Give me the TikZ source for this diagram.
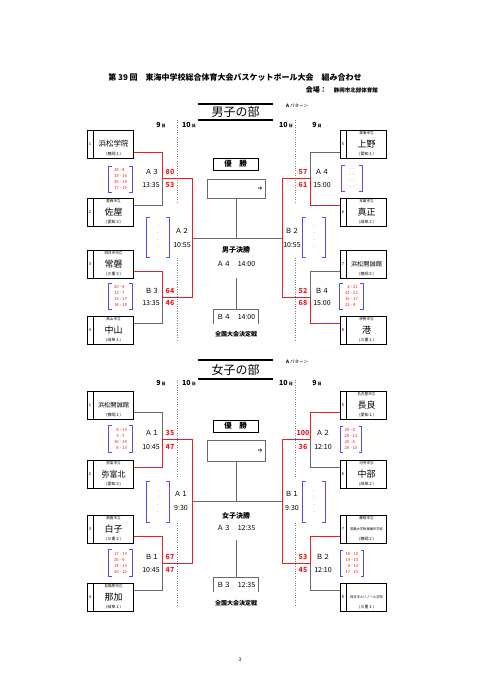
\documentclass[tikz,border=0pt]{standalone}
\usepackage{fontspec}
\setmainfont{Noto Sans CJK JP}
\usetikzlibrary{calc}
\definecolor{winred}{RGB}{228,32,32}
\definecolor{linegray}{RGB}{105,105,105}
\definecolor{sheetblue}{RGB}{80,80,230}
\tikzset{
  teambox/.style={draw, line width=1, minimum width=46, minimum height=28},
  lossline/.style={draw=linegray, line width=.8},
  winline/.style={draw=winred, line width=1},
  score/.style={text=winred, font=\fontsize{7}{8}\bfseries},
  gamelbl/.style={font=\fontsize{7}{8}\selectfont},
  qsheet/.style={minimum width=23, minimum height=26, text=winred, align=center, font=\fontsize{4.3}{6}\selectfont},
  bracket/.style={draw=sheetblue, line width=.7},
  daydot/.style={draw=gray, line width=.5, dash pattern=on .8pt off 1.6pt},
  champ/.style={draw, line width=.9, minimum width=45, minimum height=12, font=\fontsize{7.5}{8}\bfseries},
  resbox/.style={draw=linegray, line width=.7, minimum width=58},
  secttitle/.style={font=\fontsize{12}{12}\selectfont, minimum width=75},
}
\begin{document}
\begin{tikzpicture}[x=1pt,y=-1pt,every node/.style={inner sep=0}]
  \fill[white] (0,0) rectangle (481,680);
  \useasboundingbox (0,0) rectangle (481,680);
  \setlength\tabcolsep{0pt}

  % heading
  \node[font=\fontsize{8}{9}\bfseries] (title) at (235,77) {第 39 回　東海中学校総合体育大会バスケットボール大会　組み合わせ};
  \node[anchor=east, font=\fontsize{7}{8}\bfseries] (venue) at (378,90) {会場：　{\fontsize{5.5}{6}\selectfont 静岡市北部体育館}};
  \node[font=\fontsize{5}{5}\selectfont] (page) at (240,660) {3};

  % team boxes
  \foreach \id/\cx/\cy/\num/\pre/\nm/\fs/\pref in {
    m1/110/144/1//浜松学院/7.5/静岡１, m2/110/212/2/愛西市立/佐屋/9/愛知２,
    m3/110/264.5/3/四日市市立/常磐/9/三重２, m4/110/330.5/4/高山市立/中山/9/岐阜１,
    m5/363/144/5/東海市立/上野/9/愛知１, m6/363/212/6/本巣市立/真正/9/岐阜２,
    m7/363/264.5/7//浜松開誠館/6.2/静岡２, m8/363/330.5/8/伊勢市立/港/9/三重１,
    w1/110/405/1//浜松開誠館/6.2/静岡１, w2/110/474/2/弥富市立/弥富北/8/愛知２,
    w3/110/529/3/鈴鹿市立/白子/9/三重２, w4/110/597/4/各務原市立/那加/9/岐阜１,
    w5/363/405/5/名古屋市立/長良/9/愛知１, w6/363/474/6/可児市立/中部/9/岐阜２,
    w7/363/529/7/静岡市立/常葉大学附属橘中学校/3.3/静岡２, w8/363/597/8//四日市メリノール学院/3.3/三重１}{
    \node[teambox] (\id) at (\cx,\cy) {};
    \draw[line width=.6] ($(\id.north west)+(7,0)$) -- ($(\id.south west)+(7,0)$);
    \node[font=\fontsize{4}{4}\selectfont] (\id-n) at ($(\id.west)+(3.5,0)$) {\num};
    \node[font=\fontsize{3.6}{4}\selectfont] (\id-p) at ($(\id.north)+(3.5,3.5)$) {\pre};
    \node[font=\fontsize{\fs}{\fs}\selectfont] (\id-t) at ($(\id.center)+(3.5,0)$) {\nm};
    \node[font=\fontsize{4}{4}\selectfont] (\id-f) at ($(\id.south)+(3.5,-4.5)$) {(\pref)};
  }

  %%%%%%%%%% boys
  \node[secttitle, minimum height=16] (mtitle) at (235.5,112) {男子の部};
  \draw[line width=1.6] (mtitle.north west) -- (mtitle.north east) (mtitle.south west) -- (mtitle.south east);
  \node[font=\fontsize{4.5}{5}\selectfont] (mpat) at (297,106) {\textbf{A} パターン};
  \foreach \id/\x/\d in {md1/161/9, md2/189/10, md3/286/10, md4/317/9}
    \node[font=\fontsize{7}{8}\bfseries] (\id) at (\x,125) {\d\,{\fontsize{4}{4}\selectfont 日}};
  \draw[daydot] (177,120) -- (177,203) (177,258) -- (177,340);
  \draw[daydot] (295,120) -- (295,203) (295,258) -- (295,340);

  \coordinate (mjA3) at (162,178.5);
  \coordinate (mjB3) at (162,297);
  \coordinate (mjL) at (192,238);
  \coordinate (mjA4) at (310,178.5);
  \coordinate (mjB4) at (310,297);
  \coordinate (mjR) at (282,238);
  \draw[lossline] ($(m2.east)+(0,-7)$) -| (mjA3);
  \draw[lossline] ($(m4.east)+(0,-7)$) -| (mjB3);
  \draw[lossline] ($(m5.west)+(0,8)$) -| (mjA4);
  \draw[lossline] ($(m7.west)+(0,7)$) -| (mjB4);
  \draw[winline] ($(m1.east)+(0,8)$) -| (mjA3) -- (mjA3 -| mjL) -- (mjL);
  \draw[winline] ($(m3.east)+(0,7)$) -| (mjB3) -- (mjB3 -| mjL) -- (mjL);
  \draw[winline] ($(m6.west)+(0,-7)$) -| (mjA4) -- (mjA4 -| mjR) -- (mjR);
  \draw[winline] ($(m8.west)+(0,-7)$) -| (mjB4) -- (mjB4 -| mjR) -- (mjR);

  \node[champ] (mwin) at (235.5,164) {優　勝};
  \node[resbox, minimum height=19] (mres) at (236,188.5) {};
  \node[font=\fontsize{4.5}{5}\selectfont] (mres-c) at ($(mres.east)+(-5,0)$) {中};
  \draw[lossline] (mjL) -- (mjR);
  \draw[lossline] (mres.south) -- (mres.south |- mjL);
  \node[font=\fontsize{7}{8}\bfseries] (mfin) at (236,250) {男子決勝};
  \node[gamelbl] (mfin-t) at (236,264) {Ａ４　14:00};
  \node[gamelbl, minimum width=45, minimum height=14] (m3rd) at (236,317) {Ｂ４　14:00};
  \draw[lossline] (m3rd.south west) |- (m3rd.north east) -- (m3rd.south east);
  \draw[lossline] ($(mfin-t)+(0,14)$) -- (m3rd.north);
  \node[font=\fontsize{6}{7}\bfseries] (mnat) at (236,334) {全国大会決定戦};

  % boys games
  \node[gamelbl] (mA3-g) at (152,172) {Ａ３};
  \node[gamelbl] (mA3-t) at (151,185) {13:35};
  \node[score] (mA3-s1) at (170,172) {80};
  \node[score] (mA3-s2) at (170,185) {53};
  \node[qsheet] (mA3-q) at (120.5,179.5) {\begin{tabular}{r@{\ -\ }l}28&8\\19&16\\16&14\\17&15\end{tabular}};
  \node[gamelbl] (mB3-g) at (152,291) {Ｂ３};
  \node[gamelbl] (mB3-t) at (151,303) {13:35};
  \node[score] (mB3-s1) at (170,291) {64};
  \node[score] (mB3-s2) at (170,303) {46};
  \node[qsheet] (mB3-q) at (120.5,296.5) {\begin{tabular}{r@{\ -\ }l}20&4\\13&7\\13&17\\18&18\end{tabular}};
  \node[gamelbl] (mA4-g) at (322,172) {Ａ４};
  \node[gamelbl] (mA4-t) at (322,185) {15:00};
  \node[score] (mA4-s1) at (303,172) {57};
  \node[score] (mA4-s2) at (303,185) {61};
  \node[qsheet, minimum width=20] (mA4-q) at (352,178.5) {\begin{tabular}{c@{\ \ }c}-&-\\-&-\\-&-\\-&-\end{tabular}};
  \node[gamelbl] (mB4-g) at (322,291) {Ｂ４};
  \node[gamelbl] (mB4-t) at (322,303) {15:00};
  \node[score] (mB4-s1) at (303,291) {52};
  \node[score] (mB4-s2) at (303,303) {68};
  \node[qsheet] (mB4-q) at (351.5,296.5) {\begin{tabular}{r@{\ -\ }l}2&21\\12&22\\16&17\\22&8\end{tabular}};
  \node[gamelbl] (mA2-g) at (182,231) {Ａ２};
  \node[gamelbl] (mA2-t) at (182,245) {10:55};
  \node[qsheet, minimum width=22, minimum height=39] (mA2-q) at (158,237.5) {-\\[1pt]-\\[1pt]-\\[1pt]-};
  \node[gamelbl] (mB2-g) at (292,231) {Ｂ２};
  \node[gamelbl] (mB2-t) at (292,245) {10:55};
  \node[qsheet, minimum width=22, minimum height=39] (mB2-q) at (314,237.5) {-\\[1pt]-\\[1pt]-\\[1pt]-};

  %%%%%%%%%% girls
  \node[secttitle, minimum height=19] (wtitle) at (235.5,369.5) {女子の部};
  \draw[line width=1.6] (wtitle.north west) -- (wtitle.north east) (wtitle.south west) -- (wtitle.south east);
  \node[font=\fontsize{4.5}{5}\selectfont] (wpat) at (297,362) {\textbf{A} パターン};
  \foreach \id/\x/\d in {wd1/161/9, wd2/189/10, wd3/286/10, wd4/317/9}
    \node[font=\fontsize{7}{8}\bfseries] (\id) at (\x,383) {\d\,{\fontsize{4}{4}\selectfont 日}};
  \draw[daydot] (177,380) -- (177,478) (177,523) -- (177,605);
  \draw[daydot] (295,380) -- (295,478) (295,523) -- (295,605);

  \coordinate (wjA1) at (162,439.5);
  \coordinate (wjB1) at (162,563);
  \coordinate (wjL) at (192,501);
  \coordinate (wjA2) at (310,439.5);
  \coordinate (wjB2) at (310,563);
  \coordinate (wjR) at (282,501);
  \draw[lossline] ($(w1.east)+(0,7)$) -| (wjA1);
  \draw[lossline] ($(w4.east)+(0,-7)$) -| (wjB1);
  \draw[lossline] ($(w6.west)+(0,-7)$) -| (wjA2);
  \draw[lossline] ($(w8.west)+(0,-7)$) -| (wjB2);
  \draw[winline] ($(w2.east)+(0,-7)$) -| (wjA1) -- (wjA1 -| wjL) -- (wjL);
  \draw[winline] ($(w3.east)+(0,7)$) -| (wjB1) -- (wjB1 -| wjL) -- (wjL);
  \draw[winline] ($(w5.west)+(0,7)$) -| (wjA2) -- (wjA2 -| wjR) -- (wjR);
  \draw[winline] ($(w7.west)+(0,7)$) -| (wjB2) -- (wjB2 -| wjR) -- (wjR);

  \node[champ] (wwin) at (235.5,426) {優　勝};
  \node[resbox, minimum height=21] (wres) at (236,450.5) {};
  \node[font=\fontsize{4.5}{5}\selectfont] (wres-c) at ($(wres.east)+(-5,0)$) {中};
  \draw[lossline] (wjL) -- (wjR);
  \draw[lossline] (wres.south) -- (wres.south |- wjL);
  \node[font=\fontsize{7}{8}\bfseries] (wfin) at (236,516) {女子決勝};
  \node[gamelbl] (wfin-t) at (236,528) {Ａ３　12:35};
  \node[gamelbl, minimum width=45, minimum height=14] (w3rd) at (236,585) {Ｂ３　12:35};
  \draw[lossline] (w3rd.south west) |- (w3rd.north east) -- (w3rd.south east);
  \draw[lossline] ($(wfin-t)+(0,12)$) -- (w3rd.north);
  \node[font=\fontsize{6}{7}\bfseries] (wnat) at (236,603) {全国大会決定戦};

  % girls games
  \node[gamelbl] (wA1-g) at (152,433) {Ａ１};
  \node[gamelbl] (wA1-t) at (151,447) {10:45};
  \node[score] (wA1-s1) at (170,433) {35};
  \node[score] (wA1-s2) at (170,447) {47};
  \node[qsheet] (wA1-q) at (120.5,439) {\begin{tabular}{r@{\ -\ }l}8&13\\3&7\\16&14\\8&13\end{tabular}};
  \node[gamelbl] (wB1-g) at (152,557) {Ｂ１};
  \node[gamelbl] (wB1-t) at (151,570) {10:45};
  \node[score] (wB1-s1) at (170,557) {67};
  \node[score] (wB1-s2) at (170,570) {47};
  \node[qsheet] (wB1-q) at (120.5,563) {\begin{tabular}{r@{\ -\ }l}17&13\\26&9\\14&13\\10&12\end{tabular}};
  \node[gamelbl] (wA2-g) at (323,433) {Ａ２};
  \node[gamelbl] (wA2-t) at (323,447) {12:10};
  \node[score] (wA2-s1) at (303,433) {100};
  \node[score] (wA2-s2) at (303,447) {36};
  \node[qsheet, minimum width=21] (wA2-q) at (351,439.5) {\begin{tabular}{r@{\ -\ }l}29&3\\20&12\\25&6\\26&15\end{tabular}};
  \node[gamelbl] (wB2-g) at (323,557) {Ｂ２};
  \node[gamelbl] (wB2-t) at (323,570) {12:10};
  \node[score] (wB2-s1) at (303,557) {53};
  \node[score] (wB2-s2) at (303,570) {45};
  \node[qsheet] (wB2-q) at (352,563.5) {\begin{tabular}{r@{\ -\ }l}16&15\\14&10\\6&10\\17&10\end{tabular}};
  \node[gamelbl] (wA1s-g) at (181,494) {Ａ１};
  \node[gamelbl] (wA1s-t) at (181,508) {9:30};
  \node[qsheet, minimum width=22, minimum height=40] (wA1s-q) at (158,502) {-\\[1pt]-\\[1pt]-\\[1pt]-};
  \node[gamelbl] (wB1s-g) at (292,494) {Ｂ１};
  \node[gamelbl] (wB1s-t) at (292,508) {9:30};
  \node[qsheet, minimum width=22, minimum height=40] (wB1s-q) at (314,502) {-\\[1pt]-\\[1pt]-\\[1pt]-};

  % score sheet brackets
  \foreach \q in {mA3-q, mB3-q, mA4-q, mB4-q, mA2-q, mB2-q, wA1-q, wB1-q, wA2-q, wB2-q, wA1s-q, wB1s-q}
    \draw[bracket] ([xshift=3pt]\q.north west) -| (\q.south west) -- ([xshift=3pt]\q.south west)
                   ([xshift=-3pt]\q.north east) -| (\q.south east) -- ([xshift=-3pt]\q.south east);
\end{tikzpicture}
\end{document}
